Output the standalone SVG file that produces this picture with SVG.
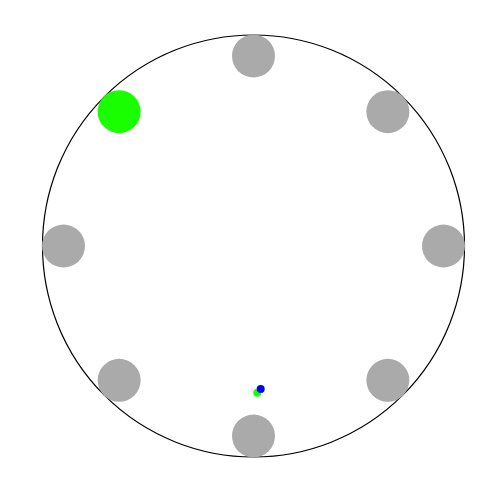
<svg xmlns="http://www.w3.org/2000/svg" width="500" height="500" viewBox="0 0 500 500">
<style>
.ring{fill:none;stroke:#000;stroke-width:1.2}
.node{fill:#aaaaaa}
.active{fill:#1aff00}
</style>
<rect width="500" height="500" fill="#fff"/>
<g id="connectors">
<circle class="ring" cx="253.5" cy="246" r="211"/>
</g>
<g id="n0"><circle class="node" cx="253.5" cy="56" r="21.5"/></g>
<g id="n1"><circle class="node" cx="387.85" cy="111.65" r="21.5"/></g>
<g id="n2"><circle class="node" cx="443.5" cy="246" r="21.5"/></g>
<g id="n3"><circle class="node" cx="387.85" cy="380.35" r="21.5"/></g>
<g id="n4"><circle class="node" cx="253.5" cy="436" r="21.5"/></g>
<g id="n5"><circle class="node" cx="119.15" cy="380.35" r="21.5"/></g>
<g id="n6"><circle class="node" cx="63.5" cy="246" r="21.5"/></g>
<g id="n7"><circle class="active" cx="119.15" cy="111.65" r="21.5"/></g>
<g id="dots">
<circle cx="257.3" cy="392.7" r="4" fill="#1aff00"/>
<circle cx="260.7" cy="389" r="4" fill="#0000ff"/>
</g>
</svg>
